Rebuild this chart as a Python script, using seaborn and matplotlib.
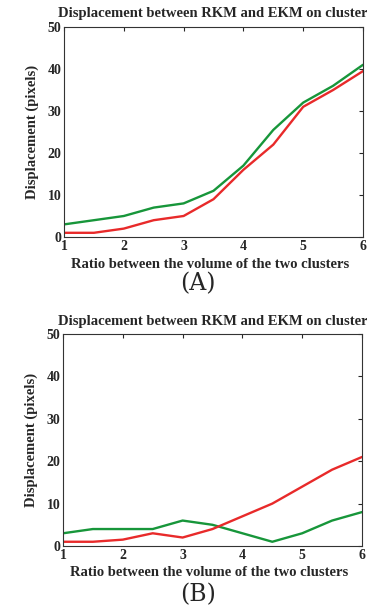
import numpy as np
import pandas as pd
import matplotlib
matplotlib.use("Agg")
import matplotlib.pyplot as plt
import seaborn as sns

ratio = [1, 1.5, 2, 2.5, 3, 3.5, 4, 4.5, 5, 5.5, 6]
green_a = [3, 4, 5, 7, 8, 11, 17, 25.5, 32, 36, 41]
red_a = [1, 1, 2, 4, 5, 9, 16, 22, 31, 35, 39.5]
green_b = [3, 4, 4, 4, 6, 5, 3, 1, 3, 6, 8]
red_b = [1, 1, 1.5, 3, 2, 4, 7, 10, 14, 18, 21]
panel_labels = ["(A)", "(B)"]
title = "Displacement between RKM and EKM on cluster 1"

sns.set_style("white")
plt.rcParams['font.family'] = ['Liberation Serif', 'DejaVu Serif']

fig = plt.figure(figsize=(3.67, 6.06), dpi=100)
W, H = 367, 606
# axes boxes in pixels: left, top, right, bottom
boxes = [(64, 27, 363, 237), (63, 334, 362, 546)]
series = [(green_a, red_a), (green_b, red_b)]
# title y, xlabel y, panel label top y (pixels)
extras = [(14, 265, 272), (322, 573, 583)]

for (l, t, r, b), (g, rd), lab, (ty, xy, py) in zip(boxes, series, panel_labels, extras):
    ax = fig.add_axes([l / W, 1 - b / H, (r - l) / W, (b - t) / H])
    df = pd.DataFrame({'ratio': ratio * 2,
                       'disp': g + rd,
                       'method': ['g'] * len(ratio) + ['r'] * len(ratio)})
    sns.lineplot(data=df, x='ratio', y='disp', hue='method',
                 palette={'g': '#17963a', 'r': '#e82a2a'},
                 linewidth=1.7, legend=False, ax=ax)
    ax.set_xlim(1, 6)
    ax.set_ylim(0, 50)
    ax.set_xticks([1, 2, 3, 4, 5, 6])
    ax.set_yticks([0, 10, 20, 30, 40, 50])
    ax.tick_params(direction='in', length=3, width=0.8, top=True, right=True,
                   labelsize=10, pad=2)
    for tl in ax.get_xticklabels() + ax.get_yticklabels():
        tl.set_fontweight('bold')
    for s in ax.spines.values():
        s.set_linewidth(0.8)
        s.set_color('#333333')
    ax.set_xlabel('')
    ax.set_ylabel('Displacement (pixels)', fontsize=10.5, fontweight='bold',
                  labelpad=6)
    fig.text((l + r) / 2 / W - 0.01, 1 - xy / H,
             'Ratio between the volume of the two clusters',
             fontsize=10.5, fontweight='bold', ha='center', va='center')
    fig.text(58 / W, 1 - ty / H, title, fontsize=10.5, fontweight='bold',
             ha='left', va='center')
    fig.text(198 / W, 1 - py / H, lab, fontsize=17, ha='center', va='top',
             family=['DejaVu Serif'])

fig.savefig('out.png', dpi=100)
